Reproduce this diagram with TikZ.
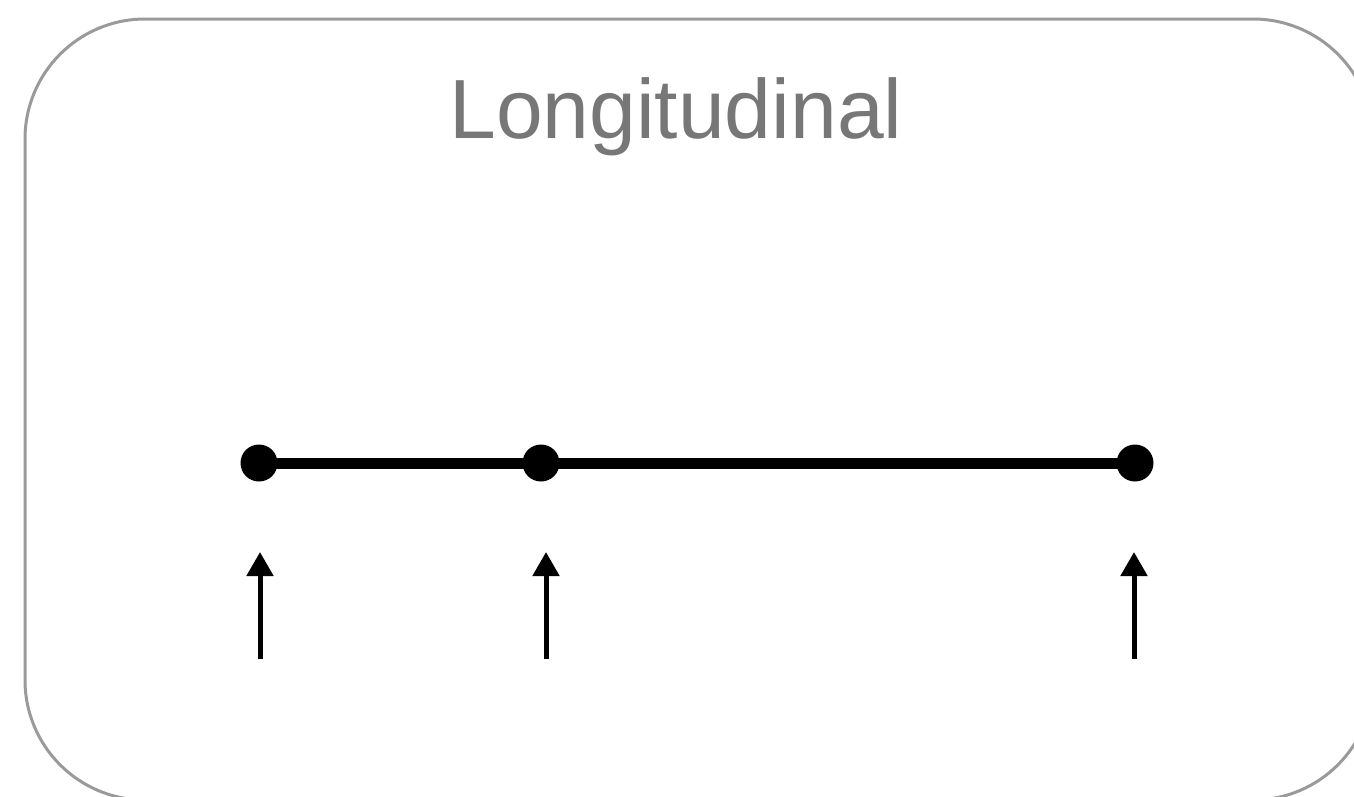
\documentclass[tikz,border=0pt]{standalone}
\usepackage{fontspec}
\setmainfont{Liberation Sans}
\usepackage{tikz}
\usepackage{xcolor}
\usetikzlibrary{arrows.meta}
\definecolor{framegray}{HTML}{9A9A9A}
\definecolor{titlegray}{HTML}{777777}
\tikzset{
  dot/.style={circle,fill=black,inner sep=0pt,minimum size=37pt},
  span/.style={line width=11pt},
  push/.style={line width=5pt,-{Triangle[width=26pt,length=24pt]}}
}

\begin{document}
\begin{tikzpicture}[x=1pt,y=-1pt]
\useasboundingbox (0,0) rectangle (1354,796);
\clip (0,0) rectangle (1354,796);
\draw[framegray,line width=3pt,rounded corners=120pt] (25,19) rectangle (1373,800);
\node[titlegray,font=\fontsize{84}{90}\selectfont,anchor=base] (title) at (676,138) {Longitudinal};
\node[dot] (p1) at (259,463) {};
\node[dot] (p2) at (541,463) {};
\node[dot] (p3) at (1135,463) {};
\draw[span] (p1.center) -- (p2.center);
\draw[span] (p2.center) -- (p3.center);
\coordinate (b1) at (260,659);
\coordinate (t1) at (260,552);
\coordinate (b2) at (546,659);
\coordinate (t2) at (546,552);
\coordinate (b3) at (1134,659);
\coordinate (t3) at (1134,552);
\draw[push] (b1) -- (t1);
\draw[push] (b2) -- (t2);
\draw[push] (b3) -- (t3);
\end{tikzpicture}
\end{document}
